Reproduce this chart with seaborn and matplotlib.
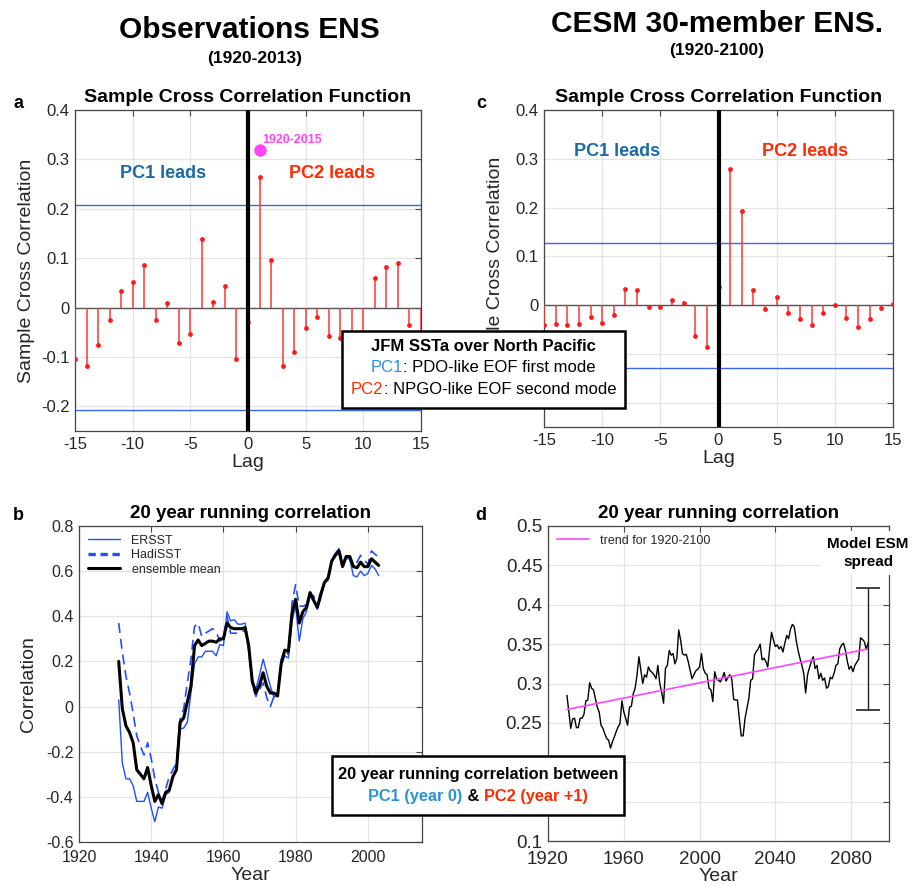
import numpy as np
import pandas as pd
import matplotlib
matplotlib.use("Agg")
import matplotlib.pyplot as plt
from matplotlib.patches import Rectangle
import seaborn as sns

# ===== DATA =====

# panels a / c : sample cross correlation PC1 vs PC2
lags = np.arange(-15, 16)
obs_ccf = [-0.104, -0.118, -0.075, -0.026, 0.034, 0.052, 0.086, -0.026, 0.010, -0.071,
           -0.054, 0.139, 0.012, 0.044, -0.104, -0.029, 0.265, 0.097, -0.118, -0.090,
           -0.042, -0.020, -0.057, -0.062, -0.080, -0.070, 0.059, 0.083, 0.090, -0.036,
           -0.085]
cesm_ccf = [-0.040, -0.038, -0.041, -0.038, -0.024, -0.036, -0.021, 0.033, 0.030, -0.004,
            -0.003, 0.010, 0.005, -0.063, -0.085, 0.037, 0.278, 0.193, 0.030, -0.009,
            0.016, -0.017, -0.029, -0.040, -0.016, 0.000, -0.026, -0.044, -0.028, -0.005,
            0.003]
obs_bound = 0.207
cesm_bound = 0.128
long_obs_lag = [1]
long_obs_ccf = [0.319]   # 1920-2015 value

ccf_yticks = [-0.2, -0.1, 0, 0.1, 0.2, 0.3, 0.4]
ccf_yticklabels = ['-0.2', '-0.1', '0', '0.1', '0.2', '0.3', '0.4']
ccf_xticks = [-15, -10, -5, 0, 5, 10, 15]

# panel b : observed 20 year running correlation
obs_years = np.arange(1931, 2004)
ersst = [0.03, -0.25, -0.32, -0.32, -0.35, -0.42, -0.42, -0.42, -0.38, -0.45,
         -0.51, -0.445, -0.45, -0.39, -0.38, -0.31, -0.285, -0.10, -0.095, -0.07,
         0.06, 0.19, 0.22, 0.22, 0.245, 0.245, 0.245, 0.225, 0.275, 0.27,
         0.42, 0.38, 0.385, 0.365, 0.365, 0.37, 0.275, 0.12, 0.077, 0.14,
         0.21, 0.15, 0.09, 0.04, 0.055, 0.18, 0.225, 0.215, 0.38, 0.445,
         0.29, 0.39, 0.42, 0.49, 0.47, 0.43, 0.48, 0.55, 0.56, 0.65,
         0.68, 0.70, 0.62, 0.66, 0.65, 0.58, 0.575, 0.60, 0.58, 0.59,
         0.625, 0.61, 0.58]
hadisst = [0.37, 0.24, 0.135, 0.06, -0.03, -0.13, -0.175, -0.215, -0.16, -0.23,
           -0.32, -0.38, -0.42, -0.365, -0.31, -0.28, -0.25, -0.055, -0.01, 0.105,
           0.21, 0.355, 0.37, 0.31, 0.325, 0.335, 0.345, 0.33, 0.29, 0.305,
           0.40, 0.325, 0.325, 0.325, 0.33, 0.34, 0.25, 0.09, 0.045, 0.075,
           0.105, 0.04, 0.0, 0.045, 0.055, 0.21, 0.25, 0.23, 0.46, 0.54,
           0.445, 0.445, 0.45, 0.50, 0.49, 0.45, 0.49, 0.55, 0.56, 0.64,
           0.67, 0.70, 0.64, 0.66, 0.66, 0.64, 0.64, 0.67, 0.65, 0.63,
           0.69, 0.675, 0.66]
ens_mean = [0.20, -0.01, -0.085, -0.115, -0.16, -0.28, -0.30, -0.32, -0.27, -0.35,
            -0.42, -0.39, -0.43, -0.38, -0.37, -0.31, -0.28, -0.07, -0.05, 0.02,
            0.09, 0.27, 0.295, 0.27, 0.28, 0.29, 0.29, 0.285, 0.30, 0.30,
            0.37, 0.35, 0.345, 0.345, 0.345, 0.35, 0.27, 0.11, 0.06, 0.095,
            0.15, 0.09, 0.06, 0.06, 0.047, 0.19, 0.25, 0.245, 0.415, 0.475,
            0.37, 0.42, 0.44, 0.505, 0.47, 0.44, 0.50, 0.55, 0.57, 0.645,
            0.67, 0.69, 0.62, 0.665, 0.665, 0.62, 0.615, 0.64, 0.62, 0.62,
            0.655, 0.64, 0.625]
obs_yticks = [-0.6, -0.4, -0.2, 0, 0.2, 0.4, 0.6, 0.8]
obs_yticklabels = ['-0.6', '-0.4', '-0.2', '0', '0.2', '0.4', '0.6', '0.8']
obs_xticks = [1920, 1940, 1960, 1980, 2000]

# panel d : CESM 20 year running correlation
cesm_years = np.arange(1930, 2090)
cesm_runcorr = [0.285, 0.264, 0.243, 0.255, 0.256, 0.244, 0.244, 0.256, 0.256, 0.261,
                0.278, 0.279, 0.301, 0.294, 0.292, 0.281, 0.270, 0.264, 0.247, 0.243,
                0.236, 0.230, 0.228, 0.218, 0.226, 0.232, 0.239, 0.245, 0.249, 0.278,
                0.264, 0.256, 0.247, 0.270, 0.271, 0.287, 0.294, 0.311, 0.334, 0.317,
                0.300, 0.311, 0.308, 0.321, 0.316, 0.314, 0.311, 0.306, 0.323, 0.300,
                0.289, 0.275, 0.319, 0.323, 0.342, 0.336, 0.338, 0.325, 0.332, 0.368,
                0.355, 0.338, 0.336, 0.337, 0.328, 0.317, 0.306, 0.311, 0.316, 0.318,
                0.321, 0.338, 0.319, 0.313, 0.311, 0.294, 0.292, 0.277, 0.315, 0.306,
                0.304, 0.302, 0.307, 0.314, 0.303, 0.308, 0.311, 0.306, 0.280, 0.279,
                0.279, 0.2555, 0.2335, 0.2335, 0.2555, 0.268, 0.281, 0.304, 0.306, 0.336,
                0.341, 0.344, 0.350, 0.330, 0.332, 0.328, 0.321, 0.344, 0.365, 0.355,
                0.347, 0.349, 0.344, 0.347, 0.340, 0.351, 0.361, 0.357, 0.369, 0.375,
                0.372, 0.355, 0.342, 0.332, 0.323, 0.313, 0.288, 0.311, 0.320, 0.328,
                0.334, 0.319, 0.323, 0.306, 0.313, 0.304, 0.307, 0.294, 0.296, 0.308,
                0.306, 0.313, 0.323, 0.325, 0.344, 0.349, 0.351, 0.342, 0.328, 0.318,
                0.322, 0.315, 0.323, 0.327, 0.331, 0.358, 0.356, 0.353, 0.343, 0.352]
trend_years = [1930, 2089]
trend_vals = [0.267, 0.344]
spread_year = [2089]
spread_lo = 0.266
spread_hi = 0.421
cesm_yticks = [0.1, 0.15, 0.2, 0.25, 0.3, 0.35, 0.4, 0.45, 0.5]
# 0.15 and 0.2 sit under the annotation box in the original
cesm_yticklabels = ['0.1', '', '', '0.25', '0.3', '0.35', '0.4', '0.45', '0.5']
cesm_xticks = [1920, 1960, 2000, 2040, 2080]

# ===== STYLE =====
sns.set_theme(style='white')
plt.rcParams['font.family'] = ['Liberation Sans', 'DejaVu Sans']
plt.rcParams['text.color'] = 'black'

W, H = 917, 886
STEM_RED = '#ff3535'
DOT_RED = '#ff1a1a'
BOUND_BLUE = '#3b63f2'
PC1_DARK = '#1a6aa6'
PC1_BLUE = '#2a92d8'
PC2_RED = '#ff2a00'
MAGENTA = '#ff44ff'


def px_box(left, top, right, bottom):
    return [left / W, 1 - bottom / H, (right - left) / W, (bottom - top) / H]


def matlab_look(ax, labelsize, xpad=4):
    ax.grid(True, color='#e4e4e4', lw=0.9)
    ax.set_axisbelow(True)
    for sp in ax.spines.values():
        sp.set_visible(True)
        sp.set_color('#454545')
        sp.set_linewidth(0.9)
    ax.tick_params(direction='in', length=4, width=0.8, top=True, right=True,
                   colors='#454545', labelcolor='#262626', labelsize=labelsize, pad=4)
    ax.tick_params(axis='x', pad=xpad)


def ccf_panel(ax, vals, bound, title, lead_y, pc1_x, pc2_x):
    ax.axhline(0, color='#555555', lw=1, zorder=2)
    ax.vlines(lags, 0, vals, color=STEM_RED, lw=1.1, zorder=3)
    sns.scatterplot(x=lags, y=vals, ax=ax, color=DOT_RED, s=12, linewidth=0, zorder=4)
    ax.axhline(bound, color=BOUND_BLUE, lw=1, zorder=2)
    ax.axhline(-bound, color=BOUND_BLUE, lw=1, zorder=2)
    ax.axvline(0, color='black', lw=3, zorder=5)
    ax.set_xlim(-15, 15)
    ax.set_ylim(-0.25, 0.4)
    ax.set_xticks(ccf_xticks)
    ax.set_xticklabels([str(t) for t in ccf_xticks])
    ax.set_yticks(ccf_yticks)
    ax.set_yticklabels(ccf_yticklabels)
    ax.set_xlabel('Lag', fontsize=14, color='#262626', labelpad=2)
    ax.set_ylabel('Sample Cross Correlation', fontsize=14, color='#262626', labelpad=4)
    ax.set_title(title, fontsize=14, fontweight='bold', pad=6)
    ax.text(pc1_x, lead_y, 'PC1 leads', color=PC1_DARK, fontsize=13, fontweight='bold',
            ha='center', va='center')
    ax.text(pc2_x, lead_y, 'PC2 leads', color=PC2_RED, fontsize=13, fontweight='bold',
            ha='center', va='center')
    matlab_look(ax, 12)


fig = plt.figure(figsize=(W / 100, H / 100), dpi=100)

# ===== panel a =====
ax_a = fig.add_axes(px_box(75, 110, 421, 431))
ccf_panel(ax_a, obs_ccf, obs_bound, 'Sample Cross Correlation Function', 0.272, -7.4, 7.3)
sns.scatterplot(x=long_obs_lag, y=long_obs_ccf, ax=ax_a, color=MAGENTA, s=80,
                linewidth=0, zorder=6)
ax_a.text(1.2, 0.34, '1920-2015', color=MAGENTA, fontsize=9, fontweight='bold',
          ha='left', va='center')

# ===== panel c =====
ax_c = fig.add_axes(px_box(544, 110, 893, 427))
ccf_panel(ax_c, cesm_ccf, cesm_bound, 'Sample Cross Correlation Function', 0.315, -8.7, 7.4)

# ===== panel b =====
ax_b = fig.add_axes(px_box(79, 526, 422, 842))
df_obs = pd.DataFrame({'year': obs_years, 'ERSST': ersst, 'HadiSST': hadisst,
                       'ensemble mean': ens_mean})
sns.lineplot(data=df_obs, x='year', y='ERSST', ax=ax_b, color='#1f4fff', lw=1,
             label='ERSST')
sns.lineplot(data=df_obs, x='year', y='HadiSST', ax=ax_b, color='#1f4fff', lw=1.2,
             linestyle=(0, (6, 3.5)), label='HadiSST')
sns.lineplot(data=df_obs, x='year', y='ensemble mean', ax=ax_b, color='black', lw=2.2,
             label='ensemble mean')
ax_b.set_xlim(1920, 2015)
ax_b.set_ylim(-0.6, 0.8)
ax_b.set_xticks(obs_xticks)
ax_b.set_xticklabels([str(t) for t in obs_xticks])
ax_b.set_yticks(obs_yticks)
ax_b.set_yticklabels(obs_yticklabels)
ax_b.set_xlabel('Year', fontsize=14, color='#262626', labelpad=1)
ax_b.set_ylabel('Correlation', fontsize=14, color='#262626', labelpad=6)
ax_b.set_title('20 year running correlation', fontsize=13.5, fontweight='bold', pad=6)
leg = ax_b.legend(loc='upper left', frameon=False, fontsize=9, handlelength=2.6,
                  labelspacing=0.2, borderaxespad=0.3, handletextpad=0.9)
leg.get_lines()[1].set_linewidth(2.4)
leg.get_lines()[1].set_linestyle((0, (2.2, 1.4)))
for t in leg.get_texts():
    t.set_color('#262626')
matlab_look(ax_b, 11.5, xpad=6)

# ===== panel d =====
ax_d = fig.add_axes(px_box(548, 526, 889, 841))
sns.lineplot(x=cesm_years, y=cesm_runcorr, ax=ax_d, color='black', lw=1)
sns.lineplot(x=trend_years, y=trend_vals, ax=ax_d, color=MAGENTA, lw=1.2,
             label='trend for 1920-2100')
mid = (spread_lo + spread_hi) / 2
ax_d.errorbar(spread_year, [mid], yerr=[[mid - spread_lo], [spread_hi - mid]], fmt='none',
              ecolor='#222222', elinewidth=1, capsize=8.5, capthick=1.2, zorder=5)
ax_d.set_xlim(1920, 2100)
ax_d.set_ylim(0.1, 0.5)
ax_d.set_xticks(cesm_xticks)
ax_d.set_xticklabels([str(t) for t in cesm_xticks])
ax_d.set_yticks(cesm_yticks)
ax_d.set_yticklabels(cesm_yticklabels)
ax_d.set_xlabel('Year', fontsize=14, color='#262626', labelpad=0)
ax_d.set_ylabel('')
ax_d.set_title('20 year running correlation', fontsize=13.5, fontweight='bold', pad=6)
leg = ax_d.legend(loc='upper left', frameon=False, fontsize=9, handlelength=2.6,
                  borderaxespad=0.3, handletextpad=0.9)
for t in leg.get_texts():
    t.set_color('#262626')
ax_d.text(2089, 0.466, 'Model ESM\nspread', ha='center', va='center', fontsize=11,
          fontweight='bold', linespacing=1.35, clip_on=False, zorder=6,
          bbox=dict(boxstyle='square,pad=0.4', fc='white', ec='none'))
matlab_look(ax_d, 13.5, xpad=7)

# ===== headers and panel letters =====
fig.text(249 / W, 1 - 30 / H, 'Observations ENS', ha='center', va='center', fontsize=21.5,
         fontweight='bold')
fig.text(255 / W, 1 - 58 / H, '(1920-2013)', ha='center', va='center', fontsize=12.5,
         fontweight='bold')
fig.text(717 / W, 1 - 24 / H, 'CESM 30-member ENS.', ha='center', va='center', fontsize=21.5,
         fontweight='bold')
fig.text(717 / W, 1 - 51 / H, '(1920-2100)', ha='center', va='center', fontsize=12.5,
         fontweight='bold')
for letter, x, y in [('a', 18, 104), ('c', 481, 104), ('b', 18, 516), ('d', 481, 516)]:
    fig.text(x / W, 1 - y / H, letter, ha='center', va='center', fontsize=13,
             fontweight='bold')

# ===== boxed annotations with coloured words =====
renderer = fig.canvas.get_renderer()


def text_width(s, size, weight):
    t = fig.text(0, 0, s, fontsize=size, fontweight=weight)
    w = t.get_window_extent(renderer).width
    t.remove()
    return w


def colored_line(xc, base, parts, size, weight):
    bar = text_width('|', size, weight)
    full = ''.join(s for s, _ in parts)
    x0 = xc - (text_width(full + '|', size, weight) - bar) / 2
    prefix = ''
    for s, c in parts:
        off = text_width(prefix + '|', size, weight) - bar if prefix else 0
        fig.text((x0 + off) / W, 1 - base / H, s, color=c, fontsize=size,
                 fontweight=weight, ha='left', va='baseline', zorder=11)
        prefix += s


fig.add_artist(Rectangle((342 / W, 1 - 408 / H), 283 / W, 77 / H, transform=fig.transFigure,
                         fc='white', ec='black', lw=1.8, zorder=10))
colored_line(483.5, 351, [('JFM SSTa over North Pacific', 'black')], 12, 'bold')
colored_line(483.5, 372.5, [('PC1', PC1_BLUE), (': PDO-like EOF first mode', 'black')],
             12, 'normal')
colored_line(483.5, 394.5, [('PC2', PC2_RED), (': NPGO-like EOF second mode', 'black')],
             12, 'normal')

fig.add_artist(Rectangle((332 / W, 1 - 815 / H), 292 / W, 59 / H, transform=fig.transFigure,
                         fc='white', ec='black', lw=1.8, zorder=10))
colored_line(478, 779, [('20 year running correlation between', 'black')], 11.8, 'bold')
colored_line(478, 801, [('PC1 (year 0)', PC1_BLUE), (' & ', 'black'),
                        ('PC2 (year +1)', PC2_RED)], 11.8, 'bold')

fig.savefig('out.png', dpi=100)
